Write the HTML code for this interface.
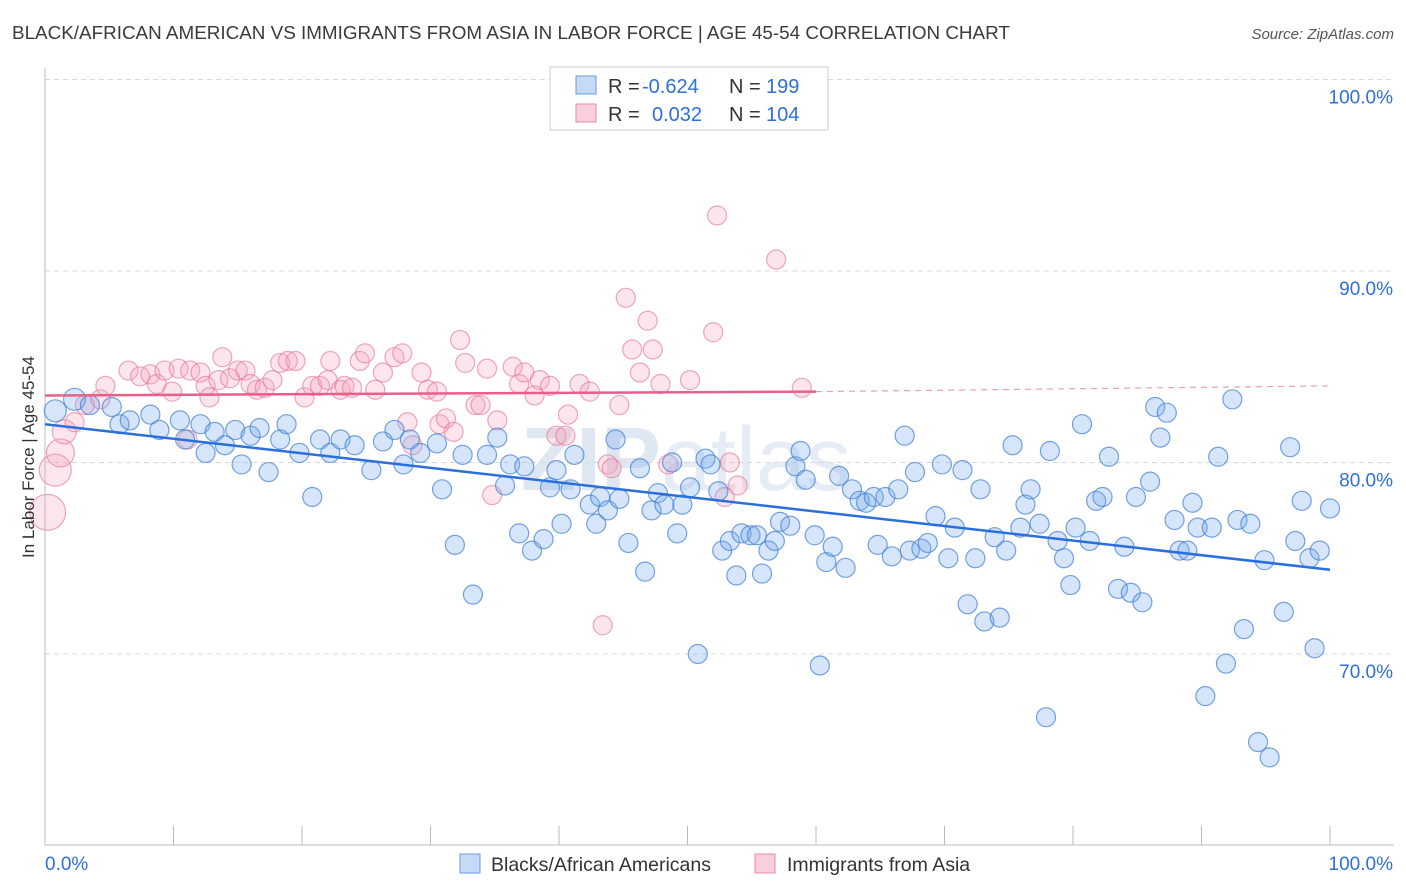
<!DOCTYPE html>
<html><head><meta charset="utf-8">
<style>
body{margin:0;background:#fff;font-family:"Liberation Sans",sans-serif;}
#wrap{position:relative;width:1406px;height:892px;overflow:hidden;}
</style></head>
<body>
<div id="wrap">
<svg id="chart" width="1406" height="892">
  <text x="12" y="39" font-size="18.85" fill="#3a3a3a">BLACK/AFRICAN AMERICAN VS IMMIGRANTS FROM ASIA IN LABOR FORCE | AGE 45-54 CORRELATION CHART</text>
  <text x="1394" y="39" font-size="15" font-style="italic" fill="#555" text-anchor="end">Source: ZipAtlas.com</text>
  <text x="686" y="490" font-size="90" font-weight="bold" fill="#dfe7f2" text-anchor="middle">ZIP<tspan font-weight="normal" fill="#e6ecf5">atlas</tspan></text>
  <g id="grid"></g>
  <g id="axes"></g>
  <g id="pts"></g>
  <g id="lines"></g>
  <text transform="translate(34,457) rotate(-90)" font-size="17" fill="#333" text-anchor="middle">In Labor Force | Age 45-54</text>
  <g font-size="20">
    <rect x="550" y="67" width="278" height="63" fill="#fff" stroke="#ccc"/>
    <rect x="576" y="76" width="20" height="18" fill="#c6daf5" stroke="#6a9be0"/>
    <rect x="576" y="104" width="20" height="18" fill="#f9cfdb" stroke="#e98aa6"/>
    <text x="608" y="93" fill="#333">R =</text>
    <text x="642" y="93" fill="#2e6fd8">-0.624</text>
    <text x="729" y="93" fill="#333">N =</text>
    <text x="766" y="93" fill="#2e6fd8">199</text>
    <text x="608" y="121" fill="#333">R =</text>
    <text x="652" y="121" fill="#2e6fd8">0.032</text>
    <text x="729" y="121" fill="#333">N =</text>
    <text x="766" y="121" fill="#2e6fd8">104</text>
  </g>
  <g>
    <rect x="460" y="854" width="20" height="19" fill="#c6daf5" stroke="#6a9be0"/>
    <text x="491" y="871" font-size="19.5" fill="#333">Blacks/African Americans</text>
    <rect x="755" y="854" width="20" height="19" fill="#f9cfdb" stroke="#e98aa6"/>
    <text x="787" y="871" font-size="19.5" fill="#333">Immigrants from Asia</text>
  </g>
</svg>
</div>
<script>
const yTicks=[100,90,80,70];
const xTickLabels=["0.0%","100.0%"];
const blueX=[0.8,2.3,3.5,5.2,5.8,6.6,8.2,8.9,10.5,10.9,12.1,12.5,13.2,14.0,14.8,15.3,16.0,16.7,17.4,18.3,18.8,19.8,20.8,21.4,22.2,23.0,24.1,25.4,26.3,27.2,27.9,28.4,29.2,30.5,30.9,31.9,32.5,33.3,34.4,35.2,35.8,36.2,36.9,37.3,37.9,38.8,39.3,39.8,40.2,40.9,41.2,42.4,42.9,43.2,43.8,44.4,44.7,45.4,46.3,46.7,47.2,47.7,48.2,48.8,49.2,49.6,50.2,50.8,51.4,51.8,52.4,52.7,53.3,53.8,54.2,54.9,55.4,55.8,56.3,56.8,57.2,58.0,58.4,58.8,59.2,59.9,60.3,60.8,61.3,61.8,62.3,62.8,63.4,63.9,64.5,64.8,65.4,65.9,66.4,66.9,67.3,67.7,68.2,68.7,69.3,69.8,70.3,70.8,71.4,71.8,72.4,72.8,73.1,73.9,74.3,74.8,75.3,75.9,76.3,76.7,77.4,77.9,78.2,78.8,79.3,79.8,80.2,80.7,81.3,81.8,82.3,82.8,83.5,84.0,84.5,84.9,85.4,86.0,86.4,86.8,87.3,87.9,88.3,88.9,89.3,89.7,90.3,90.8,91.3,91.9,92.4,92.8,93.3,93.8,94.4,94.9,95.3,96.4,96.9,97.3,97.8,98.4,98.8,99.2,100];
const blueY=[82.7,83.3,83.0,82.9,82.0,82.2,82.5,81.7,82.2,81.2,82.0,80.5,81.6,80.9,81.7,79.9,81.4,81.8,79.5,81.2,82.0,80.5,78.2,81.2,80.5,81.2,80.9,79.6,81.1,81.7,79.9,81.2,80.5,81.0,78.6,75.7,80.4,73.1,80.4,81.3,78.8,79.9,76.3,79.8,75.4,76.0,78.7,79.6,76.8,78.6,80.4,77.8,76.8,78.2,77.5,81.2,78.1,75.8,79.7,74.3,77.5,78.4,77.8,80.0,76.3,77.8,78.7,70.0,80.2,79.9,78.5,75.4,75.9,74.1,76.3,76.2,76.2,74.2,75.4,75.9,76.9,76.7,79.8,80.6,79.1,76.2,69.4,74.8,75.6,79.3,74.5,78.6,78.0,77.9,78.2,75.7,78.2,75.1,78.6,81.4,75.4,79.5,75.5,75.8,77.2,79.9,75.0,76.6,79.6,72.6,75.0,78.6,71.7,76.1,71.9,75.4,80.9,76.6,77.8,78.6,76.8,66.7,80.6,75.9,75.0,73.6,76.6,82.0,75.9,78.0,78.2,80.3,73.4,75.6,73.2,78.2,72.7,79.0,82.9,81.3,82.6,77.0,75.4,75.4,77.9,76.6,67.8,76.6,80.3,69.5,83.3,77.0,71.3,76.8,65.4,74.9,64.6,72.2,80.8,75.9,78.0,75.0,70.3,75.4,77.6];
const pinkX=[0.2,0.8,1.2,1.5,2.3,3.1,4.3,4.7,6.5,7.4,8.2,8.7,9.3,9.9,10.4,11.1,11.3,12.1,12.5,12.8,13.5,13.8,14.4,15.0,15.6,16.0,16.5,17.1,17.7,18.3,18.9,19.5,20.2,20.8,21.4,22.0,22.2,23.0,23.3,23.9,24.5,24.9,25.7,26.3,27.2,27.8,28.2,28.6,29.3,29.8,30.5,30.7,31.2,31.8,32.3,32.7,33.5,33.9,34.4,34.8,35.2,36.4,36.9,37.3,38.1,38.5,39.3,39.8,40.5,40.7,41.6,42.4,43.4,43.8,44.1,44.7,45.2,45.7,46.3,46.9,47.3,47.9,48.5,50.2,52.0,52.3,52.9,53.3,53.9,56.9,58.9];
const pinkY=[77.4,79.6,80.5,81.6,82.1,83.0,83.3,84.0,84.8,84.5,84.6,84.1,84.8,83.7,84.9,81.2,84.8,84.7,84.0,83.4,84.3,85.5,84.4,84.8,84.8,84.1,83.8,83.9,84.3,85.2,85.3,85.3,83.4,84.0,84.0,84.3,85.3,83.8,84.0,83.9,85.3,85.7,83.8,84.7,85.5,85.7,82.1,80.9,84.7,83.8,83.7,82.0,82.3,81.6,86.4,85.2,83.0,83.0,84.9,78.3,82.2,85.0,84.1,84.7,83.5,84.3,84.0,81.4,81.4,82.5,84.1,83.7,71.5,79.9,79.7,83.0,88.6,85.9,84.7,87.4,85.9,84.1,79.9,84.3,86.8,92.9,78.2,80.0,78.8,90.6,83.9];
const blueTrend=[82.0,74.4];
const pinkTrend=[83.5,83.7,84.0];

const NS="http://www.w3.org/2000/svg";
const X0=45,X1=1330,YTOP=79.5,PXPER=19.15;
const sx=v=>X0+(X1-X0)*v/100;
const sy=v=>YTOP+(100-v)*PXPER;
function mk(tag,attrs,parent){const e=document.createElementNS(NS,tag);for(const k in attrs)e.setAttribute(k,attrs[k]);parent.appendChild(e);return e;}
const grid=document.getElementById('grid'),axes=document.getElementById('axes'),pts=document.getElementById('pts'),lines=document.getElementById('lines');
yTicks.forEach(t=>{
  const l=mk('line',{x1:X0,x2:1394,y1:sy(t),y2:sy(t),stroke:'#d8d8d8','stroke-dasharray':'5,4'},grid);
  
  
  const tx=mk('text',{x:1393,y:sy(t)+24,'font-size':19,fill:'#2e6fd8','text-anchor':'end'},axes);
  tx.textContent=t.toFixed(1)+'%';
  
  
});
mk('line',{x1:X0,x2:X0,y1:68,y2:845,stroke:'#bbb'},axes);
mk('line',{x1:X0,x2:1394,y1:845,y2:845,stroke:'#bbb'},axes);
for(let i=0;i<=10;i++){mk('line',{x1:sx(i*10),x2:sx(i*10),y1:826,y2:845,stroke:'#bbb'},axes);}
const xl0=mk('text',{x:45,y:870,'font-size':19,fill:'#2e6fd8'},axes);xl0.textContent=xTickLabels[0];


const xl1=mk('text',{x:1393,y:870,'font-size':19,fill:'#2e6fd8','text-anchor':'end'},axes);xl1.textContent=xTickLabels[1];



function radius(i,big){return big&&i<4?[18,16,14,12][i]:9.5;}
pinkX.forEach((x,i)=>{
  const c=mk('circle',{cx:sx(x),cy:sy(pinkY[i]),r:radius(i,true),fill:'rgba(243,160,185,0.28)',stroke:'rgba(232,120,155,0.65)','stroke-width':1.2},pts);
  
  
});
blueX.forEach((x,i)=>{
  const c=mk('circle',{cx:sx(x),cy:sy(blueY[i]),r:(i<2?11:9.5),fill:'rgba(120,170,235,0.3)',stroke:'rgba(60,125,215,0.7)','stroke-width':1.2},pts);
  
  
});
const bl=mk('line',{x1:sx(0),y1:sy(blueTrend[0]),x2:sx(100),y2:sy(blueTrend[1]),stroke:'#2a6fdb','stroke-width':2.5},lines);


const pl=mk('line',{x1:sx(0),y1:sy(pinkTrend[0]),x2:sx(60),y2:sy(pinkTrend[1]),stroke:'#e8608a','stroke-width':2.5},lines);


const pd=mk('line',{x1:sx(60),y1:sy(pinkTrend[1]),x2:sx(100),y2:sy(pinkTrend[2]),stroke:'#e8a0b5','stroke-width':1.2,'stroke-dasharray':'6,5'},lines);


</script>
</body></html>
